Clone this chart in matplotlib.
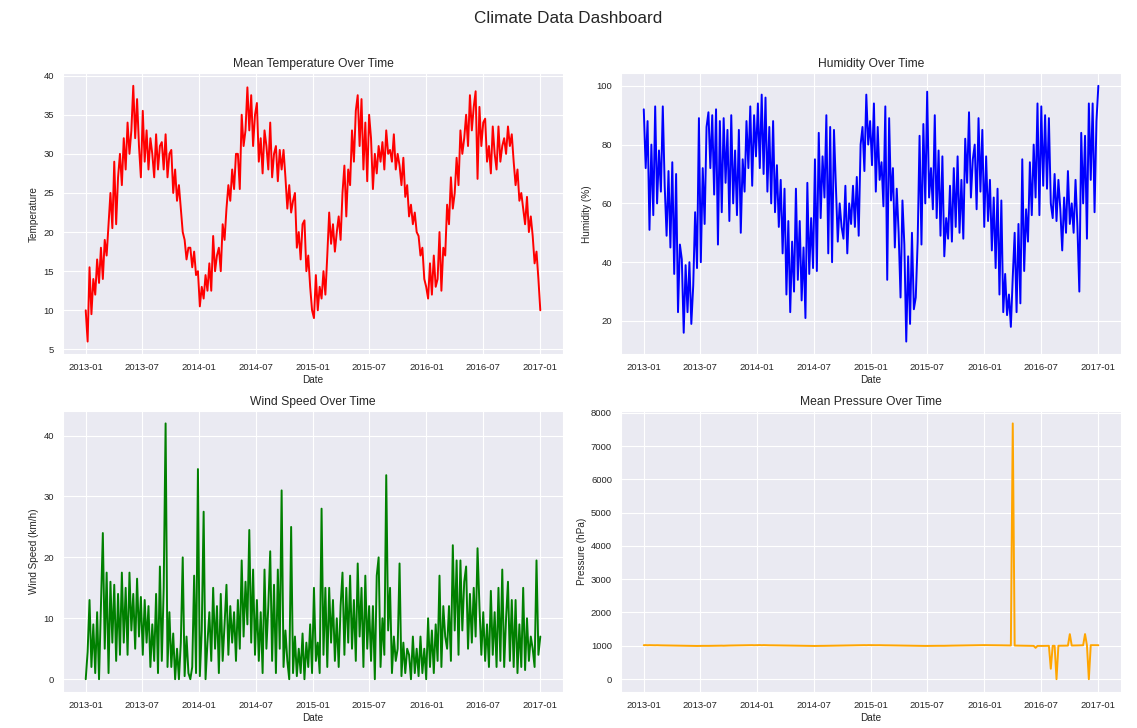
import matplotlib
matplotlib.use("Agg")
import matplotlib.pyplot as plt
import pandas as pd
import seaborn as sns

# five readings per month, Jan 2013 .. Dec 2016
mean_temp = [
    10, 6, 15.5, 9.5, 14,  12, 16.5, 13.5, 18, 14,  19, 17, 21, 25, 20.5,
    29, 21, 27, 30, 26,  32, 28, 34, 30, 33,  38.7, 32, 37, 31, 27,
    35.5, 29, 33, 28, 32,  30, 27, 32.5, 28, 31,  31.5, 28, 32.5, 27, 30,
    30.5, 25, 28, 24, 26,  23, 20, 19, 16.5, 18,  18, 15.5, 17.5, 14.5, 15,
    10.5, 13, 11.5, 14.5, 12.5,  16, 12.5, 19.5, 15, 17,  18, 15, 21, 19, 23,
    26, 24, 28, 25.5, 30,  30, 25.5, 35, 31, 33,  38.5, 33, 37.5, 31, 35,
    36.5, 29, 32, 27.5, 33,  31, 28, 34, 27, 30,  31, 26.5, 30.5, 28, 30.5,
    27, 23, 26, 22.5, 24,  25, 18, 20, 16.5, 21,  21.5, 15, 17, 13, 10,
    9, 14.5, 10, 13, 11.5,  15, 12, 17, 22.5, 18.5,  21, 17.5, 20, 22, 19,
    25, 28.5, 22, 28, 26,  33, 29, 35.5, 37.5, 31,  37, 28, 34, 26.5, 35,
    32, 25.5, 30, 27.5, 31,  29, 31.5, 28, 33, 30,  30.5, 29, 32.5, 28, 30,
    28.5, 26, 29.5, 24.5, 26,  22, 23.5, 21, 22.5, 20,  19.5, 17, 18, 14, 13,
    11.5, 16, 12, 17, 13,  14, 20, 12.5, 18, 17,  23.5, 21, 27, 23, 25,
    29.5, 26, 33, 30, 32,  35, 31, 37.5, 33, 36,  38, 26.8, 36, 31, 34,
    34.5, 29, 31, 27.5, 33.5,  30, 28, 33.5, 29, 31,  32, 30, 33.5, 31, 32.5,
    29, 26, 28, 24, 25,  23, 21, 24.5, 20, 22,  19.5, 16, 17.5, 14, 10,
]

humidity = [
    92, 72, 88, 51, 80,  56, 93, 60, 78, 64,  93, 66, 49, 71, 45,
    74, 36, 70, 23, 46,  41, 16, 39, 23, 40,  19, 32, 57, 38, 89,
    40, 72, 53, 86, 91,  72, 90, 63, 92, 46,  88, 57, 89, 67, 85,
    54, 90, 60, 78, 56,  85, 50, 75, 64, 88,  72, 93, 66, 90, 76,
    94, 72, 97, 70, 96,  64, 86, 60, 88, 57,  73, 52, 68, 43, 65,
    29, 54, 23, 47, 30,  65, 34, 54, 27, 45,  21, 67, 36, 55, 38,
    75, 37, 84, 55, 76,  62, 90, 43, 86, 40,  85, 66, 47, 60, 52,
    48, 66, 43, 60, 53,  66, 52, 69, 49, 80,  86, 71, 97, 80, 88,
    73, 94, 64, 86, 68,  74, 59, 93, 34, 89,  61, 72, 45, 65, 50,
    28, 61, 46, 13, 42,  19, 50, 24, 28, 47,  83, 46, 87, 60, 98,
    62, 72, 58, 90, 55,  78, 49, 76, 42, 55,  48, 66, 47, 72, 52,
    76, 50, 68, 48, 82,  67, 91, 62, 75, 80,  58, 89, 64, 85, 52,
    76, 54, 68, 44, 62,  38, 65, 29, 61, 23,  36, 22, 29, 18, 35,
    50, 23, 53, 26, 75,  37, 58, 47, 74, 56,  80, 62, 94, 56, 93,
    66, 90, 65, 89, 60,  55, 70, 54, 68, 58,  44, 62, 50, 71, 53,
    60, 50, 68, 52, 30,  84, 60, 83, 48, 94,  68, 94, 57, 88, 100,
]

wind_speed = [
    0, 4.5, 13, 2, 9,  1, 11, 0, 12, 24,  5, 17.5, 1, 16, 6,
    15.5, 3, 14, 4, 17.5,  6, 15, 4, 17.5, 8,  14, 5, 16.5, 7, 13.5,
    4, 13, 6, 12, 2,  9, 3, 14, 1, 18.5,  3, 15, 42, 2, 11,
    2, 7.5, 0, 5, 0,  6, 20, 0.5, 7, 1,  0, 2, 17, 1, 34.5,
    0.5, 8, 27.5, 0, 6,  11, 3, 15, 5, 12,  1, 14, 3, 9, 15.5,
    4, 12, 6, 11, 3,  13, 5, 19.5, 7, 16,  9, 24.5, 6, 18, 4,
    13, 3, 11, 1, 18,  5, 12, 21, 3, 15.5,  1, 18, 5, 31, 2,
    8, 3, 0, 25, 1,  7, 0.5, 5, 1, 7.5,  0, 6, 2, 9, 1,
    15, 3, 6, 1, 28,  4, 15, 2, 15, 6,  13, 3, 10, 2, 12,
    17.5, 4, 15, 6, 17,  5, 13, 3, 19, 7,  15, 2, 17, 5, 12,
    3, 12, 0, 17, 20,  2, 10, 4, 33.5, 8,  15, 1, 7, 3, 5,
    19, 0.5, 6, 1, 5,  4, 0, 7, 1, 5,  0.5, 7, 1, 5, 0,
    10, 2, 8, 1, 9,  3, 17, 2, 12, 7,  5, 12, 3, 22, 8,
    19.5, 4, 19.5, 8, 16,  18.5, 5, 14, 6, 15,  7, 21.5, 12, 4, 11,
    3, 9, 2, 14.5, 4,  11, 2, 15, 3, 18,  2, 10, 16, 3, 13,
    2, 13, 1, 9, 2,  15, 1.5, 10, 3, 7,  5, 2, 19.5, 4, 7,
]

mean_pressure = [
    1018, 1020, 1016, 1019, 1017,  1016, 1015, 1017, 1014, 1013,  1012, 1011, 1013, 1010, 1009,
    1008, 1006, 1007, 1005, 1004,  1003, 1001, 1002, 1000, 999,  997, 996, 998, 995, 997,
    996, 998, 997, 999, 998,  999, 1000, 998, 1001, 1000,  1003, 1004, 1002, 1005, 1006,
    1008, 1010, 1009, 1011, 1012,  1014, 1015, 1013, 1016, 1017,  1018, 1017, 1019, 1016, 1018,
    1019, 1021, 1017, 1020, 1018,  1017, 1015, 1016, 1014, 1013,  1012, 1010, 1011, 1009, 1008,
    1007, 1006, 1005, 1004, 1003,  1002, 1000, 1001, 999, 998,  996, 995, 997, 994, 996,
    995, 997, 996, 998, 997,  999, 1000, 999, 1001, 1002,  1003, 1005, 1004, 1006, 1007,
    1009, 1010, 1011, 1012, 1013,  1015, 1014, 1016, 1017, 1016,  1018, 1019, 1017, 1020, 1019,
    1018, 1020, 1017, 1019, 1018,  1016, 1015, 1014, 1015, 1013,  1012, 1011, 1010, 1011, 1009,
    1007, 1006, 1005, 1006, 1003,  1002, 1001, 1000, 999, 998,  997, 996, 995, 996, 997,
    996, 998, 997, 998, 999,  1000, 999, 1001, 1000, 1002,  1004, 1003, 1005, 1006, 1007,
    1009, 1011, 1010, 1012, 1013,  1015, 1016, 1014, 1017, 1016,  1018, 1017, 1019, 1018, 1020,
    1019, 1018, 1020, 1017, 1018,  1016, 1015, 1016, 1014, 1013,  1012, 1011, 1010, 1009, 7679,
    1007, 1006, 1005, 1004, 1003,  1002, 1001, 1000, 999, 998,  997, 938, 996, 995, 997,
    996, 998, 997, 999, 310,  1000, 999, -3, 1001, 1002,  1003, 1004, 1002, 1005, 1350,
    1008, 1010, 1009, 1011, 1012,  1015, 1016, 1352, 1014, -3,  1018, 1017, 1019, 1018, 1017,
]

dates = pd.date_range("2013-01-01", "2017-01-01", periods=len(mean_temp))

sns.set_style("darkgrid")
plt.rcParams["font.family"] = ["Liberation Sans", "DejaVu Sans"]
plt.rcParams["xtick.labelsize"] = 6.8
plt.rcParams["ytick.labelsize"] = 6.8
plt.rcParams["axes.labelsize"] = 7.2
plt.rcParams["axes.titlesize"] = 8.7

panels = [
    (mean_temp, "red", "Mean Temperature Over Time", "Temperature"),
    (humidity, "blue", "Humidity Over Time", "Humidity (%)"),
    (wind_speed, "green", "Wind Speed Over Time", "Wind Speed (km/h)"),
    (mean_pressure, "orange", "Mean Pressure Over Time", "Pressure (hPa)"),
]

fig, axes = plt.subplots(2, 2, figsize=(11.37, 7.28), dpi=100)
fig.suptitle("Climate Data Dashboard", fontsize=12.3, y=0.985)

for ax, (values, color, title, ylabel) in zip(axes.flat, panels):
    ax.plot(dates, values, color=color, linewidth=1.4)
    ax.set_title(title, pad=4)
    ax.set_xlabel("Date", labelpad=2)
    ax.set_ylabel(ylabel, labelpad=3)
    ax.tick_params(pad=3)

fig.subplots_adjust(left=0.0554, right=0.986, top=0.8997, bottom=0.0495,
                    wspace=0.116, hspace=0.2)
fig.savefig("out.png", dpi=100)
